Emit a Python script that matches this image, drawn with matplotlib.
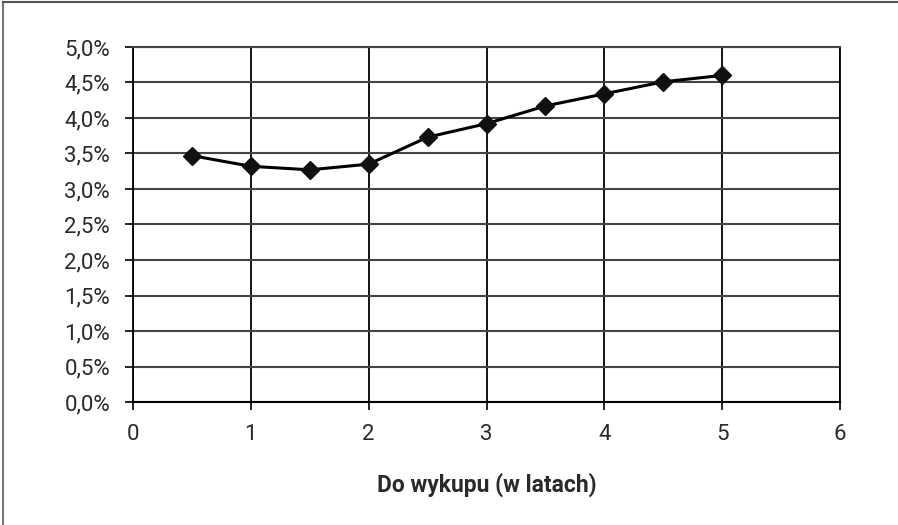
import matplotlib
matplotlib.use("Agg")
import matplotlib.pyplot as plt
from matplotlib.lines import Line2D
from matplotlib.ticker import FuncFormatter, MultipleLocator

# Yield curve: maturity in years vs. yield in percent
maturity = [0.5, 1.0, 1.5, 2.0, 2.5, 3.0, 3.5, 4.0, 4.5, 5.0]
yield_pct = [3.47, 3.32, 3.27, 3.35, 3.73, 3.92, 4.17, 4.34, 4.51, 4.60]

x_label = "Do wykupu (w latach)"

plt.rcParams["font.family"] = ["Roboto", "DejaVu Sans"]

W, H = 898, 525
fig = plt.figure(figsize=(W / 100, H / 100), dpi=100)
ax = fig.add_axes([133 / W, 1 - 402 / H, (840 - 133) / W, (402 - 47) / H])

ax.plot(maturity, yield_pct, color="black", lw=2.2, marker="D", ms=9.5,
        markerfacecolor="#111111", markeredgecolor="#111111", zorder=3, clip_on=False)

ax.set_xlim(0, 6)
ax.set_ylim(0, 5)
ax.xaxis.set_major_locator(MultipleLocator(1))
ax.yaxis.set_major_locator(MultipleLocator(0.5))
ax.yaxis.set_major_formatter(FuncFormatter(lambda v, p: f"{v:.1f}%".replace(".", ",")))

ax.grid(axis="y", color="#444444", lw=1.5, zorder=1)
ax.grid(axis="x", color="black", lw=1.3, zorder=1)
ax.set_axisbelow(True)

ax.spines["top"].set_color("#444444")
ax.spines["top"].set_linewidth(1.5)
ax.spines["right"].set_color("black")
ax.spines["right"].set_linewidth(1.3)
ax.spines["left"].set_linewidth(1.3)
ax.spines["bottom"].set_linewidth(1.5)

ax.tick_params(axis="both", direction="out", length=5.5, width=1.2, color="black",
               labelsize=16, labelcolor="#2a2a2a")
ax.tick_params(axis="y", pad=11)
ax.tick_params(axis="x", pad=10)

ax.set_xlabel(x_label, fontsize=16.5, fontweight="bold", color="#2a2a2a", labelpad=20)

# outer frame of the figure (top and left edges)
fig.add_artist(Line2D([3 / W, 3 / W], [0, 1 - 2 / H], color="#777777", lw=1.5,
                      transform=fig.transFigure))
fig.add_artist(Line2D([3 / W, 1], [1 - 2 / H, 1 - 2 / H], color="#555555", lw=1.5,
                      transform=fig.transFigure))

fig.savefig("out.png", dpi=100, facecolor="white")
